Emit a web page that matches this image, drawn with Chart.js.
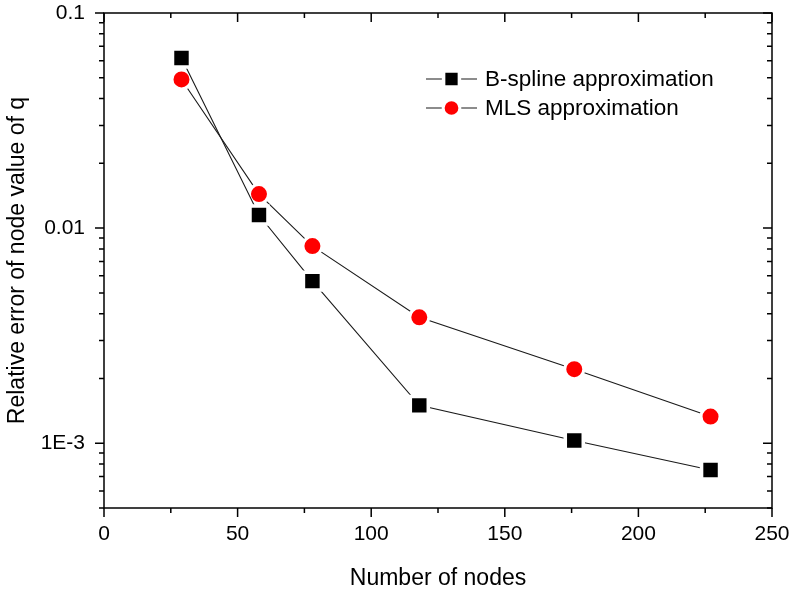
<!DOCTYPE html>
<html>
<head>
<meta charset="utf-8">
<script src="https://cdn.jsdelivr.net/npm/chart.js@4.4.1/dist/chart.umd.min.js"></script>
<style>
html, body { margin: 0; padding: 0; background: #fff; }
</style>
</head>
<body>
<canvas id="c" width="792" height="594"></canvas>
<script>
// data
const nodes = [29, 58, 78, 118, 176, 227];
const bspline = [0.0618, 0.0115, 0.00567, 0.00150, 0.00103, 0.000751];
const mls = [0.0491, 0.0144, 0.00825, 0.00385, 0.00221, 0.00133];

// axis ticks
const xMajor = [0, 50, 100, 150, 200, 250];
const xMinor = [25, 75, 125, 175, 225];
const yMajor = [0.1, 0.01, 0.001];
const yMajorLabels = ["0.1", "0.01", "1E-3"];
const yMinor = [0.0005, 0.0006, 0.0007, 0.0008, 0.0009,
                0.002, 0.003, 0.004, 0.005, 0.006, 0.007, 0.008, 0.009,
                0.02, 0.03, 0.04, 0.05, 0.06, 0.07, 0.08, 0.09];

const FONT = "'Liberation Sans', Arial, sans-serif";

// no extra room for overhanging tick labels, the box is fixed by layout padding
function noPad(s) {
    s.paddingTop = 0; s.paddingBottom = 0;
    s.paddingLeft = 0; s.paddingRight = 0;
}

// box with ticks: left/bottom point out, top/right point in (Origin style)
const frameTicks = {
    id: "frameTicks",
    afterDraw(chart) {
        const ctx = chart.ctx;
        const a = chart.chartArea;
        const x = chart.scales.x;
        const y = chart.scales.y;
        const MAJ = 9, MIN = 5;
        ctx.save();
        ctx.strokeStyle = "#000";
        ctx.lineWidth = 1.5;
        ctx.strokeRect(a.left, a.top, a.right - a.left, a.bottom - a.top);
        ctx.beginPath();
        const xt = (v, len) => {
            const p = x.getPixelForValue(v);
            ctx.moveTo(p, a.bottom); ctx.lineTo(p, a.bottom + len);
            ctx.moveTo(p, a.top); ctx.lineTo(p, a.top + len);
        };
        const yt = (v, len) => {
            const p = y.getPixelForValue(v);
            ctx.moveTo(a.left, p); ctx.lineTo(a.left - len, p);
            ctx.moveTo(a.right, p); ctx.lineTo(a.right - len, p);
        };
        xMajor.forEach(v => xt(v, MAJ));
        xMinor.forEach(v => xt(v, MIN));
        yMajor.forEach(v => yt(v, MAJ));
        yMinor.forEach(v => yt(v, MIN));
        ctx.stroke();
        ctx.restore();
    }
};

// legend inside the plot, drawn with the datasets' own point styles
const boxLegend = {
    id: "boxLegend",
    afterDraw(chart) {
        const ctx = chart.ctx;
        const x0 = 426, x1 = 477, tx = 485;
        const rows = [79, 108];
        ctx.save();
        chart.data.datasets.forEach((ds, i) => {
            const yy = rows[i];
            ctx.strokeStyle = ds.borderColor;
            ctx.lineWidth = ds.borderWidth;
            ctx.beginPath();
            ctx.moveTo(x0, yy); ctx.lineTo(x1, yy);
            ctx.stroke();
            ctx.fillStyle = ds.pointBackgroundColor;
            ctx.strokeStyle = ds.pointBorderColor;
            ctx.lineWidth = ds.pointBorderWidth;
            Chart.helpers.drawPoint(ctx, {
                pointStyle: ds.pointStyle,
                radius: ds.pointRadius * 0.88,
                rotation: 0,
                borderWidth: ds.pointBorderWidth
            }, (x0 + x1) / 2, yy);
            ctx.fillStyle = "#000";
            ctx.font = "22.5px " + FONT;
            ctx.textBaseline = "middle";
            ctx.textAlign = "left";
            ctx.fillText(ds.label, tx, yy + 1);
        });
        ctx.restore();
    }
};

new Chart(document.getElementById("c"), {
    type: "line",
    data: {
        datasets: [
            {
                label: "B-spline approximation",
                data: nodes.map((n, i) => ({ x: n, y: bspline[i] })),
                borderColor: "#1a1a1a",
                borderWidth: 1.1,
                pointStyle: "rect",
                pointRadius: 12.7,
                pointBackgroundColor: "#000",
                pointBorderColor: "#fff",
                pointBorderWidth: 3.5,
                tension: 0
            },
            {
                label: "MLS approximation",
                data: nodes.map((n, i) => ({ x: n, y: mls[i] })),
                borderColor: "#1a1a1a",
                borderWidth: 1.1,
                pointStyle: "circle",
                pointRadius: 9.5,
                pointBackgroundColor: "#ff0000",
                pointBorderColor: "#fff",
                pointBorderWidth: 3,
                tension: 0
            }
        ]
    },
    options: {
        responsive: false,
        animation: false,
        events: [],
        layout: { autoPadding: false, padding: { top: 13, right: 20, left: 0, bottom: 0 } },
        plugins: {
            legend: { display: false },
            tooltip: { enabled: false }
        },
        scales: {
            x: {
                type: "linear",
                min: 0,
                max: 250,
                afterBuildTicks: s => { s.ticks = xMajor.map(v => ({ value: v })); },
                afterFit: s => { s.height = 86; noPad(s); },
                grid: { display: false, drawTicks: false },
                border: { display: false },
                ticks: {
                    color: "#000",
                    font: { family: FONT, size: 21 },
                    padding: 14,
                    maxRotation: 0
                },
                title: {
                    display: true,
                    text: "Number of nodes",
                    color: "#000",
                    font: { family: FONT, size: 23 },
                    padding: { top: 0, bottom: 2 }
                }
            },
            y: {
                type: "logarithmic",
                min: 0.0005,
                max: 0.1,
                afterBuildTicks: s => { s.ticks = yMajor.map(v => ({ value: v })); },
                afterFit: s => { s.width = 104; noPad(s); },
                grid: { display: false, drawTicks: false },
                border: { display: false },
                ticks: {
                    color: "#000",
                    font: { family: FONT, size: 21 },
                    padding: 19,
                    callback: (v, i) => yMajorLabels[i]
                },
                title: {
                    display: true,
                    text: "Relative error of node value of q",
                    color: "#000",
                    font: { family: FONT, size: 23 },
                    padding: { top: 4, bottom: 0 }
                }
            }
        }
    },
    plugins: [frameTicks, boxLegend]
});
</script>
</body>
</html>
